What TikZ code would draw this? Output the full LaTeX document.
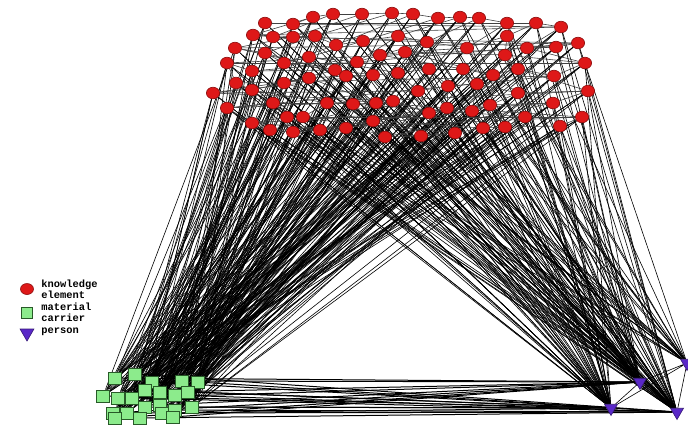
\documentclass[tikz,border=0pt]{standalone}
\usepackage{fontspec}
\setmonofont{Liberation Mono}
\usetikzlibrary{shapes.geometric}
\pgfdeclarelayer{back}\pgfdeclarelayer{bg}\pgfsetlayers{back,bg,main}
\definecolor{kred}{RGB}{222,24,24}
\definecolor{kredd}{RGB}{140,10,10}
\definecolor{mgreen}{RGB}{140,235,140}
\definecolor{mgreend}{RGB}{40,90,40}
\definecolor{ppurple}{RGB}{90,40,200}
\tikzset{
 knode/.style={ellipse,draw=kredd,fill=kred,minimum width=6.6pt,minimum height=5.8pt,inner sep=0pt,line width=0.3pt},
 mnode/.style={rectangle,draw=mgreend,fill=mgreen,minimum width=6.6pt,minimum height=6.2pt,inner sep=0pt,line width=0.3pt},
 pnode/.style={regular polygon,regular polygon sides=3,shape border rotate=180,draw=ppurple!60!black,fill=ppurple,minimum size=7.5pt,inner sep=0pt,line width=0.3pt},
 link/.style={draw=black,line width=0.3pt},
 klink/.style={draw=black!75,line width=0.3pt},
 legtext/.style={font=\ttfamily\bfseries\fontsize{5.2}{5.5}\selectfont,align=left,anchor=west,inner sep=0pt}
}
\begin{document}
\begin{tikzpicture}[x=0.5pt,y=-0.5pt]
\begin{pgfonlayer}{back}
\fill[white] (0,0) rectangle (688,425);
\end{pgfonlayer}
\useasboundingbox (0,0) rectangle (688,425);
% knowledge elements (83)
\foreach \x/\y [count=\i] in {
265/23,293/24,313/17,333/14,362/14,392/13,413/14,438/18,460/17,479/18,507/23,536/23,561/27,
253/35,273/37,293/37,315/36,336/45,363/41,398/36,427/42,467/48,507/36,527/48,556/47,578/43,
235/48,265/53,284/63,309/57,357/62,380/55,405/52,505/55,585/63,227/63,
252/71,335/70,346/76,373/75,398/73,429/69,463/69,493/75,518/69,554/76,
236/83,252/90,284/83,309/78,213/93,418/91,448/86,477/84,518/93,588/91,
227/108,273/103,327/103,353/104,376/103,393/101,429/113,447/108,472/111,490/105,553/103,252/123,287/117,303/117,525/117,582/117,
270/130,293/132,320/130,346/128,373/121,385/137,421/136,455/133,483/128,505/127,560/126}
  \node[knode] (k\i) at (\x,\y) {};
% material carriers
\foreach \x/\y [count=\i] in {
115/378,135/374,152/382,182/381,198/382,103/396,118/398,132/398,145/390,160/392,175/395,
188/392,113/413,127/413,145/407,160/405,175/410,192/407,115/418,140/418,162/413,173/417}
  \node[mnode] (m\i) at (\x,\y) {};
% persons
\node[pnode] (p1) at (611,408) {};
\node[pnode] (p2) at (640,382) {};
\node[pnode] (p3) at (677,412) {};
\node[pnode] (p4) at (687,363) {};
% legend
\node[knode,minimum width=6.5pt,minimum height=5.5pt] (lk) at (27,289) {};
\node[mnode,minimum width=5.5pt,minimum height=5.5pt] (lm) at (27,313) {};
\node[pnode,minimum size=8pt] (lp) at (27,333) {};
\node[legtext] (tk) at (41,289) {knowledge\\element};
\node[legtext] (tm) at (41,312) {material\\carrier};
\node[legtext] (tp) at (41,332) {person};
% connectors
\begin{pgfonlayer}{bg}
\foreach \i in {1,...,83}{
  \pgfmathtruncatemacro\a{mod(\i,22)+1}
  \pgfmathtruncatemacro\b{mod(\i*7+3,22)+1}
  \pgfmathtruncatemacro\c{mod(\i*13+5,22)+1}
  \pgfmathtruncatemacro\s{mod(\i,3)+1}
  \pgfmathtruncatemacro\t{mod(\i*5+1,4)+1}
  \draw[link] (k\i) -- (m\a);
  \draw[link] (k\i) -- (m\b);
  \draw[link] (k\i) -- (m\c);
  \draw[link] (k\i) -- (p\s);
  \draw[link] (k\i) -- (p\t);
  \pgfmathtruncatemacro\n{\i+1}
  \pgfmathtruncatemacro\r{\i+11}
  \ifnum\n<84 \draw[klink] (k\i) -- (k\n);\fi
  \ifnum\r<84 \draw[klink] (k\i) -- (k\r);\fi
}
\foreach \j in {1,...,22}{
  \pgfmathtruncatemacro\s{mod(\j,3)+1}
  \draw[link,line width=0.5pt] (m\j) -- (p\s);
}
\draw[link] (p1) -- (p2) (p2) -- (p3) (p1) -- (p4) (p2) -- (p4) (p3) -- (p4) (p1) -- (p3);
\end{pgfonlayer}
\end{tikzpicture}
\end{document}
